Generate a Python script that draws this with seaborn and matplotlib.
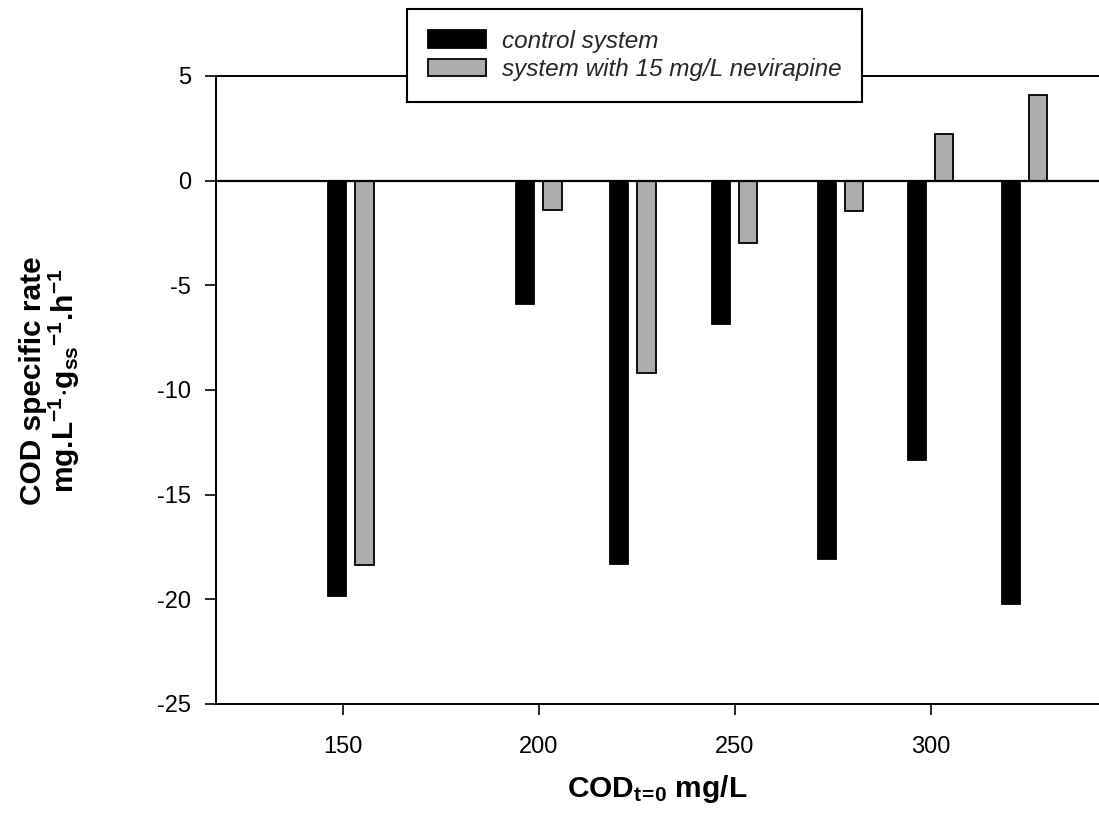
import numpy as np
import pandas as pd
import matplotlib
matplotlib.use("Agg")
import matplotlib.pyplot as plt
import seaborn as sns

# ---- data ----
cod_t0 = [152, 200, 224, 250, 277, 300, 324]
control_rate = [-19.85, -5.9, -18.3, -6.85, -18.05, -13.35, -20.2]
nevirapine_rate = [-18.35, -1.4, -9.2, -3.0, -1.45, 2.25, 4.08]
series_names = ["control system", "system with 15 mg/L nevirapine"]
x_ticks = [150, 200, 250, 300]
y_ticks = [-25, -20, -15, -10, -5, 0, 5]

df = pd.DataFrame({
    "cod": cod_t0 * 2,
    "rate": control_rate + nevirapine_rate,
    "series": [series_names[0]] * len(cod_t0) + [series_names[1]] * len(cod_t0),
})

sns.set_theme(style="white")
plt.rcParams["font.family"] = ["Liberation Sans", "DejaVu Sans"]
plt.rcParams["mathtext.default"] = "regular"
plt.rcParams["axes.unicode_minus"] = False

fig = plt.figure(figsize=(10.99, 8.15), dpi=100)
ax = fig.add_axes([216 / 1099, 1 - 704 / 815, 1 - 216 / 1099, (704 - 76) / 815])

min_gap = np.diff(sorted(cod_t0)).min()
sns.barplot(data=df, x="cod", y="rate", hue="series", hue_order=series_names,
            native_scale=True, width=14 / min_gap, gap=0.34,
            palette={series_names[0]: "#000000", series_names[1]: "#adadad"},
            edgecolor="black", linewidth=1.3, errorbar=None, ax=ax)

ax.axhline(0, color="black", lw=1.6, zorder=3)
ax.set_xlim(117.6, 343)
ax.set_ylim(-25, 5)
ax.set_xticks(x_ticks)
ax.set_yticks(y_ticks)
ax.tick_params(axis="both", which="both", direction="out", length=8, width=1.2,
               color="black", labelsize=17, pad=10, labelcolor="black",
               bottom=True, left=True, top=False, right=False)
ax.tick_params(axis="x", pad=15)
for s in ["left", "bottom", "top"]:
    ax.spines[s].set_visible(True)
    ax.spines[s].set_color("black")
    ax.spines[s].set_linewidth(1.4)
ax.spines["right"].set_visible(False)

ax.set_xlabel(r"COD$_{t\!=\!0}$ mg/L", fontsize=21.5, fontweight="bold", color="black")
ax.set_ylabel("COD specific rate\n" + r"mg.L$^{-1}$$\cdot$g$_{ss}$$^{-1}$.h$^{-1}$",
              fontsize=21.5, fontweight="bold", color="black", linespacing=1.0)
ax.xaxis.set_label_coords(0.5, -0.11)
ax.xaxis.label.set_va("top")
ax.yaxis.set_label_coords(-0.152, 0.515)

handles, labels = ax.get_legend_handles_labels()
if ax.get_legend() is not None:
    ax.get_legend().remove()
leg = ax.legend(handles, labels, loc="upper left",
                bbox_to_anchor=(407 / 1099, 1 - 9 / 815), bbox_transform=fig.transFigure,
                frameon=True, fancybox=False, shadow=False, framealpha=1,
                edgecolor="black", prop={"size": 17.5, "style": "italic"},
                handlelength=2.4, handleheight=0.75, handletextpad=0.65,
                labelspacing=0.22, borderpad=0.85, borderaxespad=0)
leg.get_frame().set_linewidth(1.5)
leg.set_zorder(10)

fig.savefig("out.png", dpi=100, facecolor="white")
